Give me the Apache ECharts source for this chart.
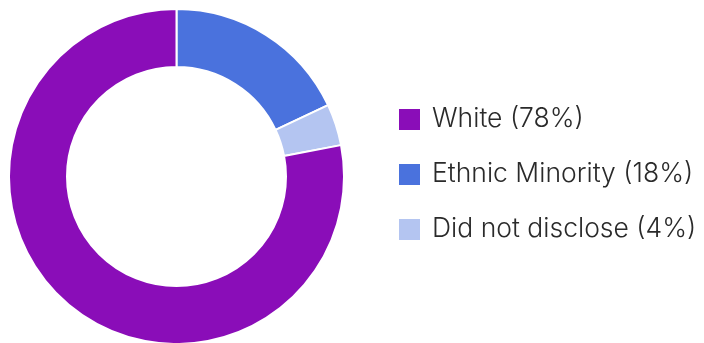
<!DOCTYPE html>
<html>
<head>
<meta charset="utf-8">
<script src="https://cdn.jsdelivr.net/npm/echarts@6/dist/echarts.min.js"></script>
<style>html,body{margin:0;padding:0;background:#fff}#c{width:704px;height:343px}</style>
</head>
<body>
<div id="c"></div>
<script>
// Data (drawing order, clockwise from 12 o'clock)
var categories = ['Ethnic Minority', 'Did not disclose', 'White'];
var values = [18, 4, 78];
var colors = ['#4a72dd', '#b4c5f1', '#8a0db8'];
var legendOrder = ['White', 'Ethnic Minority', 'Did not disclose'];

var chart = echarts.init(document.getElementById('c'));
var data = categories.map(function (n, i) {
  return { name: n, value: values[i], itemStyle: { color: colors[i] } };
});
chart.setOption({
  animation: false,
  legend: {
    orient: 'vertical',
    left: 397,
    top: 106,
    padding: 0,
    itemWidth: 23,
    itemHeight: 23,
    itemGap: 28,
    icon: 'rect',
    data: legendOrder,
    formatter: function (name) {
      return name + ' (' + values[categories.indexOf(name)] + '%)';
    },
    textStyle: {
      fontFamily: 'Inter',
      fontWeight: 300,
      fontSize: 26.5,
      lineHeight: 23,
      color: '#2a2a2a',
      padding: [0, 0, 0, 6]
    }
  },
  series: [{
    type: 'pie',
    center: [176.5, 176.5],
    radius: [109.5, 167.5],
    startAngle: 90,
    clockwise: true,
    label: { show: false },
    labelLine: { show: false },
    emphasis: { disabled: true },
    itemStyle: { borderColor: '#ffffff', borderWidth: 2 },
    data: data
  }]
});
</script>
</body>
</html>
